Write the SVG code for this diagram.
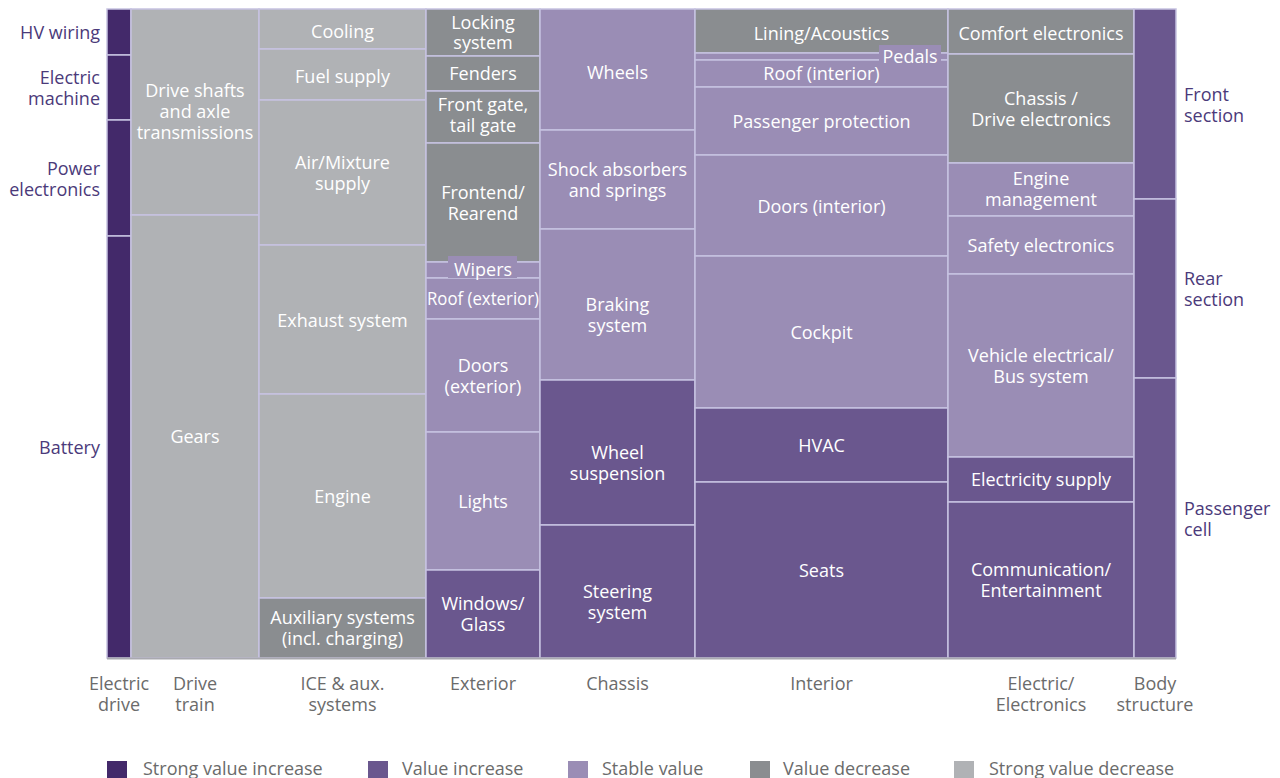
<svg xmlns="http://www.w3.org/2000/svg" width="1280" height="778" viewBox="0 0 1280 778">
<style>
  rect.b{stroke:#c6c2e1;stroke-width:1.5}
  .c1{fill:#43296a}
  .c2{fill:#6a578e}
  .c3{fill:#9a8db5}
  .c4{fill:#8a8d90}
  .c5{fill:#b0b2b5}
  text{font-family:"Open Sans","Noto Sans","DejaVu Sans",sans-serif;font-size:18px}
  .in{fill:#ffffff;text-anchor:middle}
  .side{fill:#4b3a7a}
  .cat{fill:#6b6b6b;text-anchor:middle}
  .leg{fill:#6b6b6b}
</style>
<rect width="1280" height="778" fill="#ffffff"/>

<g id="electric-drive">
  <rect class="b c1" x="107" y="9" width="24" height="46"/>
  <rect class="b c1" x="107" y="55" width="24" height="65"/>
  <rect class="b c1" x="107" y="120" width="24" height="116"/>
  <rect class="b c1" x="107" y="236" width="24" height="422"/>
  <text class="side" text-anchor="end" x="100" y="39">HV wiring</text>
  <text class="side" text-anchor="end" x="100" y="84">Electric<tspan x="100" y="105">machine</tspan></text>
  <text class="side" text-anchor="end" x="100" y="174.5">Power<tspan x="100" y="195.5">electronics</tspan></text>
  <text class="side" text-anchor="end" x="100" y="454">Battery</text>
</g>

<g id="drive-train">
  <rect class="b c5" x="131" y="9" width="128" height="206"/>
  <rect class="b c5" x="131" y="215" width="128" height="443"/>
  <text class="in" x="195" y="97">Drive shafts<tspan x="195" y="118">and axle</tspan><tspan x="195" y="139">transmissions</tspan></text>
  <text class="in" x="195" y="443">Gears</text>
</g>

<g id="ice">
  <rect class="b c5" x="259" y="9" width="167" height="40"/>
  <rect class="b c5" x="259" y="49" width="167" height="51"/>
  <rect class="b c5" x="259" y="100" width="167" height="145"/>
  <rect class="b c5" x="259" y="245" width="167" height="149"/>
  <rect class="b c5" x="259" y="394" width="167" height="204"/>
  <rect class="b c4" x="259" y="598" width="167" height="60"/>
  <text class="in" x="342.5" y="38">Cooling</text>
  <text class="in" x="342.5" y="83">Fuel supply</text>
  <text class="in" x="342.5" y="169">Air/Mixture<tspan x="342.5" y="190">supply</tspan></text>
  <text class="in" x="342.5" y="327">Exhaust system</text>
  <text class="in" x="342.5" y="503">Engine</text>
  <text class="in" x="342.5" y="624">Auxiliary systems<tspan x="342.5" y="645">(incl. charging)</tspan></text>
</g>

<g id="exterior">
  <rect class="b c4" x="426" y="9" width="114" height="47"/>
  <rect class="b c4" x="426" y="56" width="114" height="35"/>
  <rect class="b c4" x="426" y="91" width="114" height="52"/>
  <rect class="b c4" x="426" y="143" width="114" height="119"/>
  <rect class="b c3" x="426" y="262" width="114" height="16"/>
  <rect class="b c3" x="426" y="278" width="114" height="41"/>
  <rect class="b c3" x="426" y="319" width="114" height="113"/>
  <rect class="b c3" x="426" y="432" width="114" height="138"/>
  <rect class="b c2" x="426" y="570" width="114" height="88"/>
  <text class="in" x="483" y="29">Locking<tspan x="483" y="49">system</tspan></text>
  <text class="in" x="483" y="80">Fenders</text>
  <text class="in" x="483" y="111">Front gate,<tspan x="483" y="132">tail gate</tspan></text>
  <text class="in" x="483" y="199">Frontend/<tspan x="483" y="220">Rearend</tspan></text>
  <rect class="c3" x="448" y="256" width="69" height="22"/>
  <text class="in" x="483" y="276">Wipers</text>
  <text class="in" x="483" y="305" textLength="112" lengthAdjust="spacingAndGlyphs">Roof (exterior)</text>
  <text class="in" x="483" y="372">Doors<tspan x="483" y="393">(exterior)</tspan></text>
  <text class="in" x="483" y="508">Lights</text>
  <text class="in" x="483" y="610">Windows/<tspan x="483" y="631">Glass</tspan></text>
</g>

<g id="chassis">
  <rect class="b c3" x="540" y="9" width="155" height="121"/>
  <rect class="b c3" x="540" y="130" width="155" height="99"/>
  <rect class="b c3" x="540" y="229" width="155" height="151"/>
  <rect class="b c2" x="540" y="380" width="155" height="145"/>
  <rect class="b c2" x="540" y="525" width="155" height="133"/>
  <text class="in" x="617.5" y="79">Wheels</text>
  <text class="in" x="617.5" y="176">Shock absorbers<tspan x="617.5" y="197">and springs</tspan></text>
  <text class="in" x="617.5" y="311">Braking<tspan x="617.5" y="332">system</tspan></text>
  <text class="in" x="617.5" y="459">Wheel<tspan x="617.5" y="480">suspension</tspan></text>
  <text class="in" x="617.5" y="598">Steering<tspan x="617.5" y="619">system</tspan></text>
</g>

<g id="interior">
  <rect class="b c4" x="695" y="9" width="253" height="44"/>
  <rect class="b c3" x="695" y="53" width="253" height="7"/>
  <rect class="b c3" x="695" y="60" width="253" height="27"/>
  <rect class="b c3" x="695" y="87" width="253" height="68"/>
  <rect class="b c3" x="695" y="155" width="253" height="101"/>
  <rect class="b c3" x="695" y="256" width="253" height="152"/>
  <rect class="b c2" x="695" y="408" width="253" height="74"/>
  <rect class="b c2" x="695" y="482" width="253" height="176"/>
  <text class="in" x="821.5" y="40">Lining/Acoustics</text>
  <rect class="c3" x="879" y="45" width="62" height="20"/>
  <text class="in" x="910" y="63">Pedals</text>
  <text class="in" x="821.5" y="80">Roof (interior)</text>
  <text class="in" x="821.5" y="128">Passenger protection</text>
  <text class="in" x="821.5" y="213">Doors (interior)</text>
  <text class="in" x="821.5" y="339">Cockpit</text>
  <text class="in" x="821.5" y="452">HVAC</text>
  <text class="in" x="821.5" y="577">Seats</text>
</g>

<g id="electric-electronics">
  <rect class="b c4" x="948" y="9" width="186" height="45"/>
  <rect class="b c4" x="948" y="54" width="186" height="109"/>
  <rect class="b c3" x="948" y="163" width="186" height="53"/>
  <rect class="b c3" x="948" y="216" width="186" height="58"/>
  <rect class="b c3" x="948" y="274" width="186" height="183"/>
  <rect class="b c2" x="948" y="457" width="186" height="45"/>
  <rect class="b c2" x="948" y="502" width="186" height="156"/>
  <text class="in" x="1041" y="40">Comfort electronics</text>
  <text class="in" x="1041" y="105">Chassis /<tspan x="1041" y="126">Drive electronics</tspan></text>
  <text class="in" x="1041" y="185">Engine<tspan x="1041" y="206">management</tspan></text>
  <text class="in" x="1041" y="252">Safety electronics</text>
  <text class="in" x="1041" y="362">Vehicle electrical/<tspan x="1041" y="383">Bus system</tspan></text>
  <text class="in" x="1041" y="486">Electricity supply</text>
  <text class="in" x="1041" y="576">Communication/<tspan x="1041" y="597">Entertainment</tspan></text>
</g>

<g id="body-structure">
  <rect class="b c2" x="1134" y="9" width="42" height="190"/>
  <rect class="b c2" x="1134" y="199" width="42" height="179"/>
  <rect class="b c2" x="1134" y="378" width="42" height="280"/>
  <text class="side" x="1184" y="101">Front<tspan x="1184" y="122">section</tspan></text>
  <text class="side" x="1184" y="285">Rear<tspan x="1184" y="306">section</tspan></text>
  <text class="side" x="1184" y="515">Passenger<tspan x="1184" y="536">cell</tspan></text>
</g>

<g id="connectors">
  <line x1="107" y1="658.5" x2="1176" y2="658.5" stroke="#a9a9b0" stroke-width="2"/>
</g>

<g id="categories">
  <text class="cat" x="119" y="690">Electric<tspan x="119" y="711">drive</tspan></text>
  <text class="cat" x="195" y="690">Drive<tspan x="195" y="711">train</tspan></text>
  <text class="cat" x="342.5" y="690">ICE &amp; aux.<tspan x="342.5" y="711">systems</tspan></text>
  <text class="cat" x="483" y="690">Exterior</text>
  <text class="cat" x="617.5" y="690">Chassis</text>
  <text class="cat" x="821.5" y="690">Interior</text>
  <text class="cat" x="1041" y="690">Electric/<tspan x="1041" y="711">Electronics</tspan></text>
  <text class="cat" x="1155" y="690">Body<tspan x="1155" y="711">structure</tspan></text>
</g>

<g id="legend">
  <rect class="c1" x="107" y="761" width="20" height="17"/>
  <text class="leg" x="143" y="775">Strong value increase</text>
  <rect class="c2" x="368" y="761" width="20" height="17"/>
  <text class="leg" x="402" y="775">Value increase</text>
  <rect class="c3" x="568" y="761" width="20" height="17"/>
  <text class="leg" x="602" y="775">Stable value</text>
  <rect class="c4" x="750" y="761" width="20" height="17"/>
  <text class="leg" x="783" y="775">Value decrease</text>
  <rect class="c5" x="954" y="761" width="20" height="17"/>
  <text class="leg" x="989" y="775">Strong value decrease</text>
</g>
</svg>
